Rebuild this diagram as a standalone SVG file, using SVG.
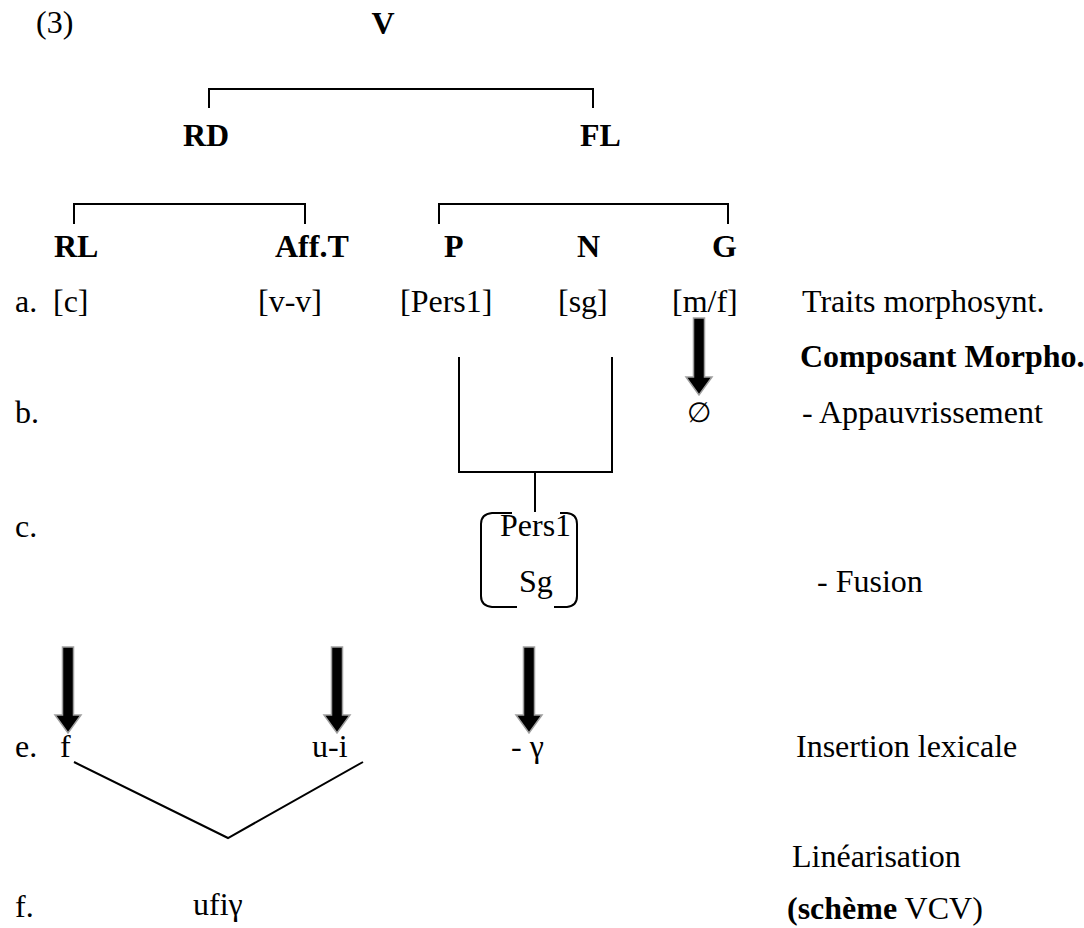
<svg xmlns="http://www.w3.org/2000/svg" width="1084" height="928" viewBox="0 0 1084 928">
<style>
text{font-family:"Liberation Serif","Times New Roman",serif;font-size:32px;fill:#000}
.b{font-weight:bold}
.ln{fill:none;stroke:#000;stroke-width:2}
.arr{fill:#000;stroke:#a0a0a0;stroke-width:1.5}
</style>
<rect width="1084" height="928" fill="#fff"/>
<g id="label-num"><text x="36" y="33">(3)</text></g>
<g id="node-V"><text class="b" x="383" y="34" text-anchor="middle">V</text></g>
<g id="node-RD"><text class="b" x="183" y="146">RD</text></g>
<g id="node-FL"><text class="b" x="580" y="146">FL</text></g>
<g id="node-RL"><text class="b" x="54" y="257">RL</text></g>
<g id="node-AffT"><text class="b" x="275" y="257">Aff.T</text></g>
<g id="node-P"><text class="b" x="444" y="257">P</text></g>
<g id="node-N"><text class="b" x="577" y="257">N</text></g>
<g id="node-G"><text class="b" x="712" y="257">G</text></g>
<g id="row-a">
<text x="15" y="312">a.</text>
<text x="53" y="312">[c]</text>
<text x="258" y="312">[v-v]</text>
<text x="400" y="312">[Pers1]</text>
<text x="558" y="312">[sg]</text>
<text x="672" y="312">[m/f]</text>
<text x="802" y="312">Traits morphosynt.</text>
</g>
<g id="label-composant"><text class="b" x="800" y="367">Composant Morpho.</text></g>
<g id="row-b">
<text x="15" y="423">b.</text>
<text x="699" y="422" text-anchor="middle" style="font-size:28px">∅</text>
<text x="802" y="423">- Appauvrissement</text>
</g>
<g id="row-c">
<text x="15" y="537">c.</text>
<text x="817" y="592">- Fusion</text>
</g>
<g id="node-fusion">
<path class="ln" d="M512 513 H492 Q481 514 481 524 V596 Q481 606 492 607 H517"/>
<path class="ln" d="M560 513 H567 Q577 514 577 524 V596 Q577 606 567 607 H554"/>
<text x="500" y="536">Pers1</text>
<text x="519" y="592">Sg</text>
</g>
<g id="row-e">
<text x="15" y="757">e.</text>
<text x="60" y="757">f</text>
<text x="312" y="757">u-i</text>
<text x="511" y="757">- γ</text>
<text x="796" y="757">Insertion lexicale</text>
</g>
<g id="label-lin"><text x="792" y="867">Linéarisation</text></g>
<g id="row-f">
<text x="15" y="917">f.</text>
<text x="193" y="915">ufiγ</text>
<text x="787" y="919"><tspan class="b">(schème</tspan> VCV)</text>
</g>
<g id="connectors">
<path class="ln" d="M209 108 V89 H593 V108"/>
<path class="ln" d="M74 224 V204 H305 V224"/>
<path class="ln" d="M439 224 V204 H728 V224"/>
<path class="ln" d="M459 357 V472 H612 V357 M535 472 V512"/>
<path class="ln" d="M74 762 L228 838 L363 762"/>
<path class="arr" d="M693.5 318 H704.5 V377 H712 L699 395 L686 377 H693.5 Z"/>
<path class="arr" d="M62.5 647 H73.5 V715 H81 L68 733 L55 715 H62.5 Z"/>
<path class="arr" d="M331.5 647 H342.5 V715 H350 L337 733 L324 715 H331.5 Z"/>
<path class="arr" d="M523.5 647 H534.5 V715 H542 L529 733 L516 715 H523.5 Z"/>
</g>
</svg>
